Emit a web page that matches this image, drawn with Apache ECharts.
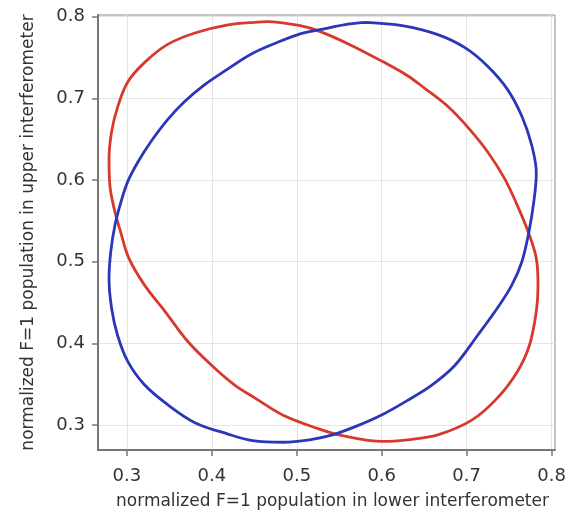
<!DOCTYPE html>
<html>
<head>
<meta charset="utf-8">
<script src="https://cdn.jsdelivr.net/npm/echarts@6/dist/echarts.min.js"></script>
<style>
  html, body, #main { width: 100%; height: 100%; margin: 0; background: #fff; }
</style>
</head>
<body>
<div id="main"></div>
<script>
// red ellipse, going round anticlockwise from the top
var redX = [0.450, 0.419, 0.380, 0.348, 0.321, 0.301, 0.289, 0.282, 0.279, 0.280,
            0.285, 0.293, 0.302, 0.321, 0.345, 0.372, 0.400, 0.427, 0.451, 0.484,
            0.524, 0.554, 0.601, 0.630, 0.666, 0.706, 0.736, 0.760, 0.774, 0.782,
            0.784, 0.782, 0.773, 0.760, 0.745, 0.725, 0.701, 0.678, 0.651, 0.630,
            0.601, 0.562, 0.527, 0.504, 0.465, 0.450];
var redY = [0.793, 0.790, 0.780, 0.766, 0.744, 0.720, 0.689, 0.659, 0.626, 0.593,
            0.565, 0.535, 0.505, 0.471, 0.439, 0.402, 0.373, 0.349, 0.333, 0.312,
            0.296, 0.287, 0.280, 0.282, 0.288, 0.306, 0.333, 0.366, 0.398, 0.439,
            0.471, 0.504, 0.535, 0.568, 0.601, 0.634, 0.665, 0.690, 0.712, 0.728,
            0.745, 0.766, 0.782, 0.789, 0.794, 0.793];

// blue ellipse, same way round
var blueX = [0.582, 0.562, 0.527, 0.504, 0.476, 0.446, 0.419, 0.392, 0.368, 0.348,
             0.329, 0.313, 0.301, 0.293, 0.286, 0.281, 0.279, 0.282, 0.289, 0.301,
             0.321, 0.348, 0.380, 0.419, 0.448, 0.484, 0.515, 0.542, 0.571, 0.601,
             0.630, 0.659, 0.686, 0.713, 0.736, 0.753, 0.765, 0.773, 0.779, 0.782,
             0.777, 0.765, 0.748, 0.725, 0.698, 0.666, 0.624, 0.582];
var blueY = [0.793, 0.791, 0.784, 0.779, 0.768, 0.754, 0.736, 0.717, 0.696, 0.674,
             0.648, 0.622, 0.598, 0.573, 0.545, 0.512, 0.479, 0.443, 0.410, 0.378,
             0.349, 0.325, 0.303, 0.289, 0.281, 0.279, 0.282, 0.288, 0.299, 0.313,
             0.330, 0.349, 0.373, 0.410, 0.443, 0.471, 0.500, 0.535, 0.573, 0.608,
             0.641, 0.678, 0.711, 0.739, 0.762, 0.778, 0.789, 0.793];

var xTicks = [0.3, 0.4, 0.5, 0.6, 0.7, 0.8];
var yTicks = [0.3, 0.4, 0.5, 0.6, 0.7, 0.8];

function pairs(xs, ys) {
    var out = [];
    for (var i = 0; i < xs.length; i++) out.push([xs[i], ys[i]]);
    return out;
}

var chart = echarts.init(document.getElementById('main'));
var font = 'DejaVu Sans';

var option = {
    animation: false,
    grid: {
        left: 98, top: 15, right: 17, bottom: 63,
        show: true, borderColor: '#8a8a8a', borderWidth: 1
    },
    xAxis: {
        type: 'value',
        min: 0.266, max: 0.804,
        name: 'normalized F=1 population in lower interferometer',
        nameLocation: 'middle',
        nameGap: 43,
        nameTextStyle: { fontFamily: font, fontSize: 17, color: '#333', padding: [0, 0, 0, 12] },
        axisLine: { lineStyle: { color: '#777', width: 2 } },
        axisTick: { customValues: xTicks, length: 6, lineStyle: { color: '#777', width: 1.5 } },
        axisLabel: {
            customValues: xTicks, margin: 17,
            fontFamily: font, fontSize: 18, color: '#333',
            formatter: function (v) { return v.toFixed(1); }
        },
        splitLine: { show: true, lineStyle: { color: '#e4e4e4', width: 1 } }
    },
    yAxis: {
        type: 'value',
        min: 0.2695, max: 0.802,
        name: 'normalized F=1 population in upper interferometer',
        nameLocation: 'middle',
        nameGap: 61,
        nameTextStyle: { fontFamily: font, fontSize: 17, color: '#333' },
        axisLine: { lineStyle: { color: '#777', width: 2 } },
        axisTick: { customValues: yTicks, length: 6, lineStyle: { color: '#777', width: 1.5 } },
        axisLabel: {
            customValues: yTicks, margin: 13,
            fontFamily: font, fontSize: 18, color: '#333',
            formatter: function (v) { return v.toFixed(1); }
        },
        splitLine: { show: true, lineStyle: { color: '#e4e4e4', width: 1 } }
    },
    series: [
        {
            type: 'line',
            data: pairs(redX, redY),
            smooth: 0.35,
            showSymbol: false,
            lineStyle: { color: '#d7392c', width: 2.8 }
        },
        {
            type: 'line',
            data: pairs(blueX, blueY),
            smooth: 0.35,
            showSymbol: false,
            lineStyle: { color: '#2b36b8', width: 2.8 }
        }
    ]
};

chart.setOption(option);
window.onresize = function () { chart.resize(); };
</script>
</body>
</html>
